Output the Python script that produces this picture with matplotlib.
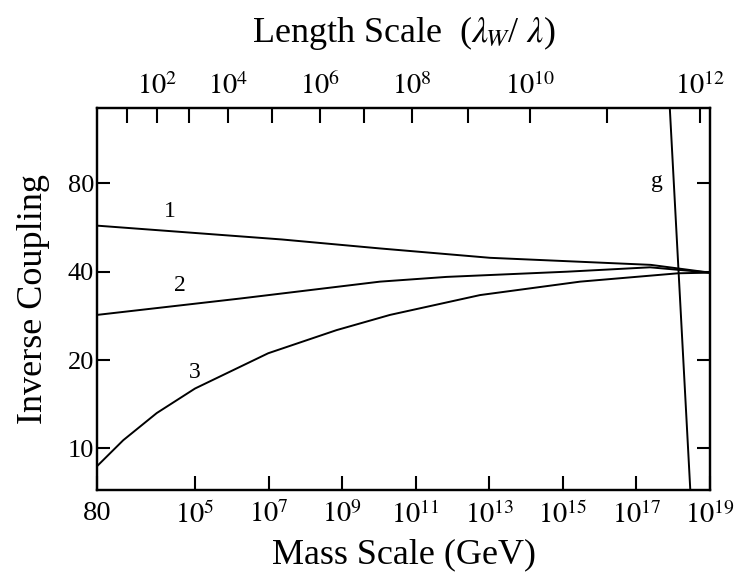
import numpy as np
import matplotlib.pyplot as plt

plt.rcParams['font.family'] = ['Liberation Serif', 'DejaVu Serif']
plt.rcParams['mathtext.fontset'] = 'stix'

# x values are log10(mass / GeV); the left edge of the axis is labelled 80 GeV
x_left = 2.336
x_right = 19.0

mass_1 = [2.336, 7.36, 10.03, 13.02, 17.39, 19.0]
inv_1 = [57.4, 51.5, 48.0, 44.6, 42.2, 39.7]

mass_2 = [2.336, 6.22, 10.03, 11.84, 15.11, 17.37, 19.0]
inv_2 = [28.5, 32.4, 37.0, 38.4, 40.0, 41.4, 39.7]

mass_3 = [2.336, 3.05, 3.96, 5.0, 6.99, 8.85, 10.30, 12.75, 15.47, 18.13, 19.0]
inv_3 = [8.70, 10.67, 13.2, 16.0, 21.1, 25.3, 28.5, 33.3, 37.0, 39.5, 39.7]

mass_g = [17.90, 18.47]
inv_g = [150.0, 7.0]

# bottom axis ticks
mass_ticks = [x_left, 5, 7, 9, 11, 13, 15, 17, 19]
mass_labels = ['80'] + [r'$10^{%d}$' % e for e in range(5, 20, 2)]

# top axis: where lambda_W/lambda = 10^1 ... 10^12 falls on the mass axis
length_pos = [3.14, 3.98, 4.84, 5.91, 7.10, 8.40, 9.60, 10.89, 12.41, 14.11, 16.19, 18.73]
length_exp = list(range(1, 13))

inv_ticks = [10, 20, 40, 80]

fig = plt.figure(figsize=(7.4, 5.77), dpi=100)
ax = fig.add_axes([97 / 740, 1 - 490 / 577, 613 / 740, 382 / 577])

lw = 1.4
ax.plot(mass_1, inv_1, color='black', lw=lw)
ax.plot(mass_2, inv_2, color='black', lw=lw)
ax.plot(mass_3, inv_3, color='black', lw=lw)
ax.plot(mass_g, inv_g, color='black', lw=lw)

ax.text(4.32, 64.3, '1', fontsize=17, ha='center', va='center')
ax.text(4.59, 36.0, '2', fontsize=17, ha='center', va='center')
ax.text(5.0, 18.2, '3', fontsize=17, ha='center', va='center')
ax.text(17.55, 81.0, 'g', fontsize=17, ha='center', va='center')

ax.set_yscale('log')
ax.set_xlim(x_left, x_right)
ax.set_ylim(7.22, 144.4)
ax.set_yticks(inv_ticks)
ax.set_yticklabels([str(v) for v in inv_ticks])
ax.yaxis.set_minor_locator(plt.NullLocator())
ax.set_xticks(mass_ticks)
ax.set_xticklabels(mass_labels)

ax.tick_params(axis='x', direction='in', length=10, width=1.5, labelsize=20.5, pad=8)
ax.tick_params(axis='y', direction='in', length=9.5, width=1.5, labelsize=19, pad=2,
               right=True)
for s in ax.spines.values():
    s.set_linewidth(1.6)

ax.set_xlabel('Mass Scale (GeV)', fontsize=26, labelpad=7)
ax.set_ylabel('Inverse Coupling', fontsize=26, labelpad=13)

ax2 = ax.twiny()
ax2.set_xlim(x_left, x_right)
ax2.set_xticks(length_pos)
ax2.set_xticklabels([r'$10^{%d}$' % e if e % 2 == 0 else '' for e in length_exp])
ax2.tick_params(axis='x', direction='in', length=10.5, width=1.5, labelsize=20.5, pad=6)
ax2.set_xlabel(r'Length Scale  ($\lambda_{\!W}$/ $\lambda$)', fontsize=26, labelpad=22)
for s in ax2.spines.values():
    s.set_linewidth(1.6)

fig.savefig('out.png', dpi=100)
